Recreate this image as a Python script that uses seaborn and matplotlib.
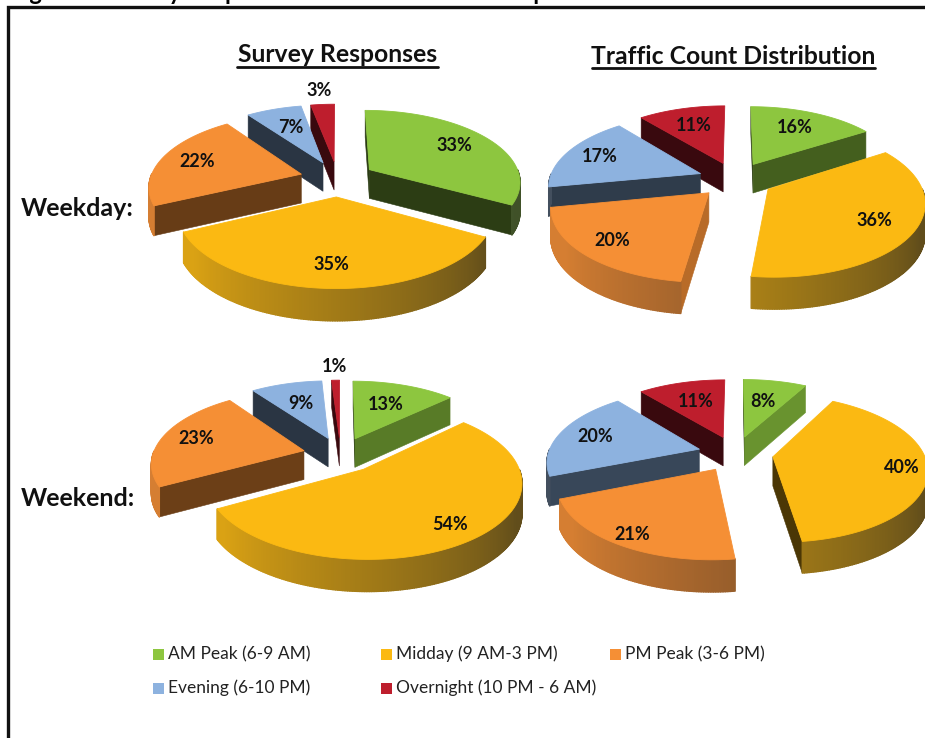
import numpy as np
import matplotlib
matplotlib.use('Agg')
import matplotlib.pyplot as plt
from matplotlib.collections import PolyCollection
from matplotlib.patches import Rectangle
import seaborn as sns

categories = ['AM Peak (6-9 AM)', 'Midday (9 AM-3 PM)', 'PM Peak (3-6 PM)',
              'Evening (6-10 PM)', 'Overnight (10 PM - 6 AM)']
weekday_survey = [33, 35, 22, 7, 3]
weekday_traffic = [16, 36, 20, 17, 11]
weekend_survey = [13, 54, 23, 9, 1]
weekend_traffic = [8, 40, 21, 20, 11]
colors = ['#8DC63F', '#FBB912', '#F58F35', '#8DB2DF', '#BE1E2D']
rim_max = [0.85, 0.85, 0.85, 0.33, 0.33]

# how far along the radius each percent label sits
label_r_ws = [0.72, 0.78, 0.74, 0.62, 1.27]
label_r_wt = [0.68, 0.75, 0.80, 0.75, 0.66]
label_r_es = [0.60, 0.82, 0.76, 0.60, 1.27]
label_r_et = [0.60, 0.84, 0.88, 0.74, 0.62]

RX, RY, PERSP, EXPLODE, DEPTH = 151, 71, 0.155, 0.25, 29

sns.set_theme(style='white')
plt.rcParams['font.family'] = ['Lato', 'DejaVu Sans']
palette = sns.color_palette(colors)


def project(u, v, cx, cy):
    s = 1 / (1 + PERSP * v)
    return cx + RX * u * s, cy - RY * v * s, DEPTH * np.sqrt(s)


def shade(col, f):
    return tuple(c * f for c in col)


def cut_shade(normal):
    return float(np.interp(normal, [118, 137, 150, 170, 230], [0.75, 0.62, 0.45, 0.33, 0.30]))


def rim_colour(col, theta, top):
    f = float(np.clip(0.32 + (theta - 120) / 115 * 0.53, 0.30, top))
    return tuple(c * f + 0.12 * (1 - f) for c in col)


def draw_face(ax, pts, col, lw=0.4):
    ax.add_collection(PolyCollection([pts], facecolors=[col], edgecolors=[col], linewidths=lw))


def draw_pie(ax, values, label_r, cx, cy):
    edges = np.cumsum([0] + values) / sum(values) * 360
    mids = (edges[:-1] + edges[1:]) / 2
    order = np.argsort(-np.cos(np.radians(mids)))
    for i in order:
        a0, a1, mid = edges[i], edges[i + 1], mids[i]
        eu = EXPLODE * np.sin(np.radians(mid))
        ev = EXPLODE * np.cos(np.radians(mid))
        col = palette[i]
        ts = np.arange(a0, a1, 0.75).tolist() + [a1]
        tr = np.radians(ts)
        x, y, d = project(eu + np.sin(tr), ev + np.cos(tr), cx, cy)
        ax0, ay0, ad0 = project(eu, ev, cx, cy)

        # flat cut faces, skip the ones turned away from the viewer
        n0 = (a0 - 90) % 360
        n1 = (a1 + 90) % 360
        if np.cos(np.radians(n0)) < 0:
            face0 = [(ax0, ay0), (x[0], y[0]), (x[0], y[0] + d[0]), (ax0, ay0 + ad0)]
            draw_face(ax, face0, shade(col, cut_shade(n0)))
        if np.cos(np.radians(n1)) < 0:
            face1 = [(ax0, ay0), (x[-1], y[-1]), (x[-1], y[-1] + d[-1]), (ax0, ay0 + ad0)]
            draw_face(ax, face1, shade(col, cut_shade(n1)))

        # outer rim, only the part facing the viewer
        for j in range(len(ts) - 1):
            if np.cos(tr[j]) + np.cos(tr[j + 1]) < 0:
                quad = [(x[j], y[j]), (x[j + 1], y[j + 1]),
                        (x[j + 1], y[j + 1] + d[j + 1]), (x[j], y[j] + d[j])]
                draw_face(ax, quad, rim_colour(col, ts[j], rim_max[i]), lw=1.0)

        # top
        draw_face(ax, [(ax0, ay0)] + list(zip(x, y)), col, lw=0.6)

    for i in order:
        mid = np.radians(mids[i])
        lu = (EXPLODE + label_r[i]) * np.sin(mid)
        lv = (EXPLODE + label_r[i]) * np.cos(mid)
        lx, ly, _ = project(lu, lv, cx, cy)
        ax.text(lx, ly, f'{values[i]}%', ha='center', va='center', fontsize=13,
                fontweight='bold', color='#111111', zorder=5)


fig = plt.figure(figsize=(9.25, 7.38), dpi=100)
ax = fig.add_axes([0, 0, 1, 1])
ax.set_xlim(0, 925)
ax.set_ylim(738, 0)
ax.axis('off')

# frame and the cut off caption above it
ax.plot([8, 8, 925], [738, 7, 7], color='#111111', lw=2.4, solid_joinstyle='miter')
ax.text(10, 0, 'Figure 5: Survey Responses vs. Traffic Count Comparison', fontsize=17,
        fontweight='bold', color='black', va='baseline', ha='left')

draw_pie(ax, weekday_survey, label_r_ws, 337, 178)
draw_pie(ax, weekday_traffic, label_r_wt, 735, 179)
draw_pie(ax, weekend_survey, label_r_es, 340, 454)
draw_pie(ax, weekend_traffic, label_r_et, 735, 453)

ax.text(338, 55, 'Survey Responses', ha='center', va='center', fontsize=17.8, fontweight='bold', color='#111111')
ax.plot([237, 438], [67, 67], color='#111111', lw=2)
ax.text(733, 56, 'Traffic Count Distribution', ha='center', va='center', fontsize=17.8, fontweight='bold', color='#111111')
ax.plot([592, 875], [68, 68], color='#111111', lw=2)

ax.text(21, 208, 'Weekday:', ha='left', va='center', fontsize=18, fontweight='bold', color='#111111')
ax.text(21, 499, 'Weekend:', ha='left', va='center', fontsize=18, fontweight='bold', color='#111111')

# legend laid out by hand, the columns are not evenly spaced
legend_x = [153, 381, 610, 153, 381]
legend_y = [654, 654, 654, 688, 688]
for name, col, lx, ly in zip(categories, palette, legend_x, legend_y):
    ax.add_patch(Rectangle((lx, ly - 5), 10.5, 10.5, facecolor=col, edgecolor='none'))
    ax.text(lx + 15, ly, name, ha='left', va='center', fontsize=12.5, color='#222222')

fig.savefig('out.png', dpi=100)
